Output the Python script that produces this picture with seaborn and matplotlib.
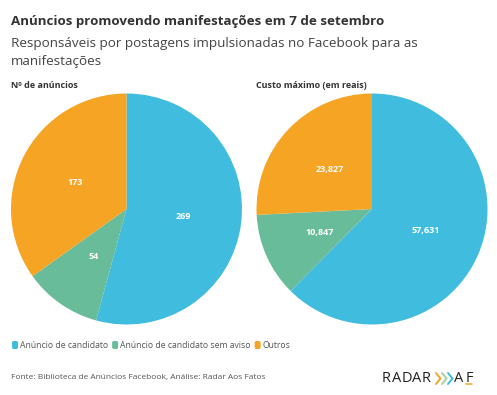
import matplotlib
matplotlib.use("Agg")
import matplotlib.pyplot as plt
import seaborn as sns
import numpy as np
from matplotlib.patches import FancyBboxPatch
from matplotlib.lines import Line2D

sns.set_theme(style="white")
plt.rcParams['font.family'] = ['Open Sans', 'DejaVu Sans']

categories = ["Anúncio de candidato", "Anúncio de candidato sem aviso", "Outros"]
anuncios = [269, 54, 173]
custo = [57631, 10847, 23827]
panel_titles = ["Nº de anúncios", "Custo máximo (em reais)"]
colors = ["#40BCDE", "#68BC9A", "#F5A424"]

W, H = 497, 395
fig = plt.figure(figsize=(W / 100, H / 100), dpi=100)
fig.patch.set_facecolor("white")

def px(x, y):
    return x / W, 1 - y / H

# Title
fig.text(*px(11, 22), "Anúncios promovendo manifestações em 7 de setembro",
         fontsize=9.6, fontweight="bold", color="#333333", va="center", ha="left")
fig.text(*px(11, 44), "Responsáveis por postagens impulsionadas no Facebook para as",
         fontsize=9.7, color="#444444", va="center", ha="left")
fig.text(*px(11, 61), "manifestações", fontsize=9.7, color="#444444", va="center", ha="left")

def draw_pie(cx, cy, r, values, fmt, title, tx):
    ax = fig.add_axes([(cx - r) / W, 1 - (cy + r) / H, 2 * r / W, 2 * r / H])
    ax.pie(values, colors=colors, startangle=90, counterclock=False,
           wedgeprops=dict(linewidth=0))
    ax.set_xlim(-1, 1)
    ax.set_ylim(-1, 1)
    ax.set_aspect("equal")
    ax.axis("off")
    total = sum(values)
    start = 90.0
    for v in values:
        ang = start - 360 * v / total / 2
        start -= 360 * v / total
        x = 0.5 * np.cos(np.deg2rad(ang))
        y = 0.5 * np.sin(np.deg2rad(ang))
        ax.text(x, y, fmt(v), color="white", fontsize=6.5, fontweight="bold",
                ha="center", va="center")
    fig.text(*px(tx, 86), title, fontsize=6.5, fontweight="bold", color="#333333",
             va="center", ha="left")
    return ax

draw_pie(126.5, 209, 115.5, anuncios, lambda v: f"{v}", panel_titles[0], 11)
draw_pie(372, 209, 115.5, custo, lambda v: f"{v:,}", panel_titles[1], 256)

# Legend
lx = 12
fs = 6.2
fig.canvas.draw()
for c, lab in zip(colors, categories):
    sq = FancyBboxPatch(px(lx, 349), 6 / W, 8 / H,
                        boxstyle="round,pad=0,rounding_size=0.004",
                        transform=fig.transFigure, facecolor=c, edgecolor="none")
    fig.patches.append(sq)
    t = fig.text(*px(lx + 8, 345), lab, fontsize=fs, color="#555555",
                 va="center", ha="left")
    fig.canvas.draw()
    bb = t.get_window_extent()
    lx = bb.x1 + 4

fig.text(*px(11, 377), "Fonte: Biblioteca de Anúncios Facebook, Análise: Radar Aos Fatos",
         fontsize=6.0, color="#555555", va="center", ha="left")

# Logo
for ch, x in zip("RADAR", [386.5, 396.5, 406.5, 416.5, 426.5]):
    fig.text(*px(x, 378.5), ch, fontsize=10.5, color="#222222", va="center", ha="center")
for x, c in zip([436, 442, 448], ["#F5A424", "#A8CFA0", "#40BCDE"]):
    xs = [x / W, (x + 4.5) / W, x / W]
    ys = [1 - 373 / H, 1 - 378.5 / H, 1 - 384 / H]
    fig.lines.append(Line2D(xs, ys, transform=fig.transFigure, color=c, lw=1.4,
                            solid_joinstyle="miter"))
fig.text(*px(459, 378.5), "A", fontsize=10.5, color="#222222", va="center", ha="center")
fig.text(*px(469, 378.5), "F", fontsize=10.5, color="#222222", va="center", ha="center")
fig.lines.append(Line2D([466 / W, 472 / W], [1 - 384.2 / H, 1 - 384.2 / H],
                        transform=fig.transFigure, color="#F5A424", lw=1.1))

fig.savefig("out.png", dpi=100, facecolor="white")
